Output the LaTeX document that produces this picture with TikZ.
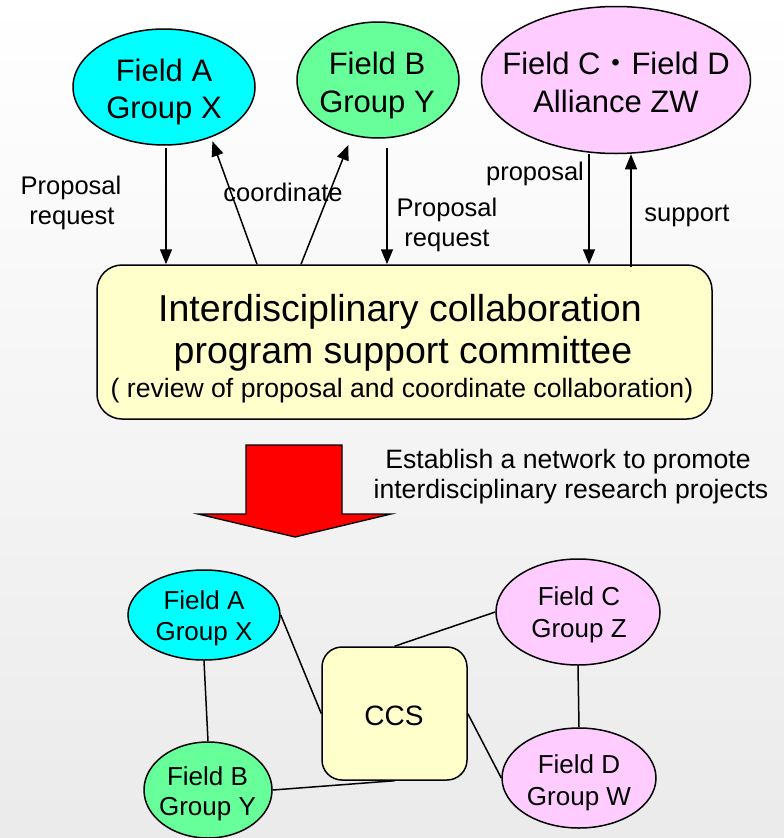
\documentclass[tikz,border=0pt]{standalone}
\usepackage{fontspec}
\setmainfont{Liberation Sans}
\newfontfamily\cjkfont{Noto Sans CJK JP}
\usetikzlibrary{shapes.geometric,arrows.meta}
\definecolor{cyanA}{HTML}{00FFFF}
\definecolor{greenB}{HTML}{66FF99}
\definecolor{pinkC}{HTML}{FFCCFF}
\definecolor{paleY}{HTML}{FFFFCC}
\begin{document}
\begin{tikzpicture}[x=1pt,y=-1pt,
  ell/.style={ellipse,draw=black,line width=1.5pt,inner sep=0pt},
  bigtxt/.style={anchor=base,inner sep=0pt,font=\fontsize{31}{37}\selectfont},
  smtxt/.style={anchor=base,inner sep=0pt,font=\fontsize{26}{31}\selectfont},
  lbl/.style={anchor=base,inner sep=0pt,font=\fontsize{25.5}{30}\selectfont},
  arr/.style={-{Triangle[length=15pt,width=12pt]},line width=1.5pt},
  link/.style={line width=1.5pt},
  panel/.style={draw=black,line width=1.5pt,fill=paleY}]
\useasboundingbox (0,0) rectangle (784,838);
\fill[top color=white,bottom color=black!8] (0,0) rectangle (784,838);

% ---- top ellipses
\node[ell,fill=cyanA,minimum width=182pt,minimum height=116pt] (A) at (164,87) {};
\node[bigtxt] (A1) at (164,81) {Field A};
\node[bigtxt] (A2) at (164,118) {Group X};
\node[ell,fill=greenB,minimum width=162pt,minimum height=116pt] (B) at (378,80) {};
\node[bigtxt] (B1) at (377,74) {Field B};
\node[bigtxt] (B2) at (377,112) {Group Y};
\node[ell,fill=pinkC,minimum width=269pt,minimum height=147pt] (CD) at (616,80) {};
\node[bigtxt] (CD1) at (616,74) {Field C{\cjkfont ・}Field D};
\node[bigtxt] (CD2) at (616,112) {Alliance ZW};

% ---- committee
\node[panel,rounded corners=25pt,minimum width=615pt,minimum height=154pt] (box) at (404.5,342) {};
\node[anchor=base,inner sep=0pt,font=\fontsize{37.5}{40}\selectfont] (K1) at (400,321) {Interdisciplinary collaboration};
\node[anchor=base,inner sep=0pt,font=\fontsize{37.5}{40}\selectfont] (K2) at (403,363) {program support committee};
\node[anchor=base,inner sep=0pt,font=\fontsize{26.6}{30}\selectfont] (K3) at (402,397) {( review of proposal and coordinate collaboration)};

% ---- top arrows
\draw[arr,shorten <=2pt] ([xshift=2pt]A.south) -- ([xshift=-238.5pt]box.north);
\draw[arr,shorten >=4pt] ([xshift=-147.5pt]box.north) -- (A.-47);
\draw[arr,shorten >=10pt] ([xshift=-103.5pt]box.north) -- (B.-115);
\draw[arr,shorten <=9pt] ([xshift=9pt]B.south) -- ([xshift=-17.5pt]box.north);
\draw[arr] ([xshift=-27pt]CD.south) -- ([xshift=184.5pt]box.north);
\draw[arr,shorten <=-3pt] ([xshift=226.5pt]box.north) -- ([xshift=15pt]CD.south);

% ---- labels
\node[lbl] (L1) at (71,194) {Proposal};
\node[lbl] (L2) at (72,224) {request};
\node[lbl] (L3) at (283,201.5) {coordinate};
\node[lbl] (L4) at (447,216.5) {Proposal};
\node[lbl] (L5) at (447,246.5) {request};
\node[lbl] (L6) at (535,180) {proposal};
\node[lbl] (L7) at (687,221.5) {support};

% ---- red arrow
\draw[fill=red,line width=1.3pt,line join=miter]
  (246,445) -- (342,445) -- (342,514) -- (391,514) -- (295,537)
  -- (198,514) -- (246,514) -- cycle;
\node[anchor=base,inner sep=0pt,font=\fontsize{26.6}{30}\selectfont] (E1) at (568,468) {Establish a network to promote};
\node[anchor=base,inner sep=0pt,font=\fontsize{26.6}{30}\selectfont] (E2) at (571,498) {interdisciplinary research projects};

% ---- bottom network
\node[ell,fill=cyanA,minimum width=152pt,minimum height=90pt] (nA) at (204,615) {};
\node[smtxt] (nA1) at (204,609) {Field A};
\node[smtxt] (nA2) at (204,640) {Group X};
\node[ell,fill=greenB,minimum width=128pt,minimum height=96pt] (nB) at (208,790) {};
\node[smtxt] (nB1) at (207.5,785) {Field B};
\node[smtxt] (nB2) at (207.5,815) {Group Y};
\node[ell,fill=pinkC,minimum width=164pt,minimum height=106pt] (nC) at (578,612) {};
\node[smtxt] (nC1) at (579,605) {Field C};
\node[smtxt] (nC2) at (579,637) {Group Z};
\node[ell,fill=pinkC,minimum width=154pt,minimum height=100pt] (nD) at (579,778) {};
\node[smtxt] (nD1) at (579,773) {Field D};
\node[smtxt] (nD2) at (579,805) {Group W};
\node[panel,rounded corners=20pt,minimum width=145pt,minimum height=133pt] (ccs) at (394.5,713.5) {};
\node[anchor=base,inner sep=0pt,font=\fontsize{28}{30}\selectfont] (ccst) at (394,725) {CCS};

\draw[link] (nA.south) -- (nB.north);
\draw[link] (nA.east) -- (ccs.west);
\draw[link] (nB.east) -- (ccs.south);
\draw[link] (nC.west) -- (ccs.north);
\draw[link] (nC.south) -- (nD.north);
\draw[link] (ccs.east) -- (nD.west);
\end{tikzpicture}
\end{document}
